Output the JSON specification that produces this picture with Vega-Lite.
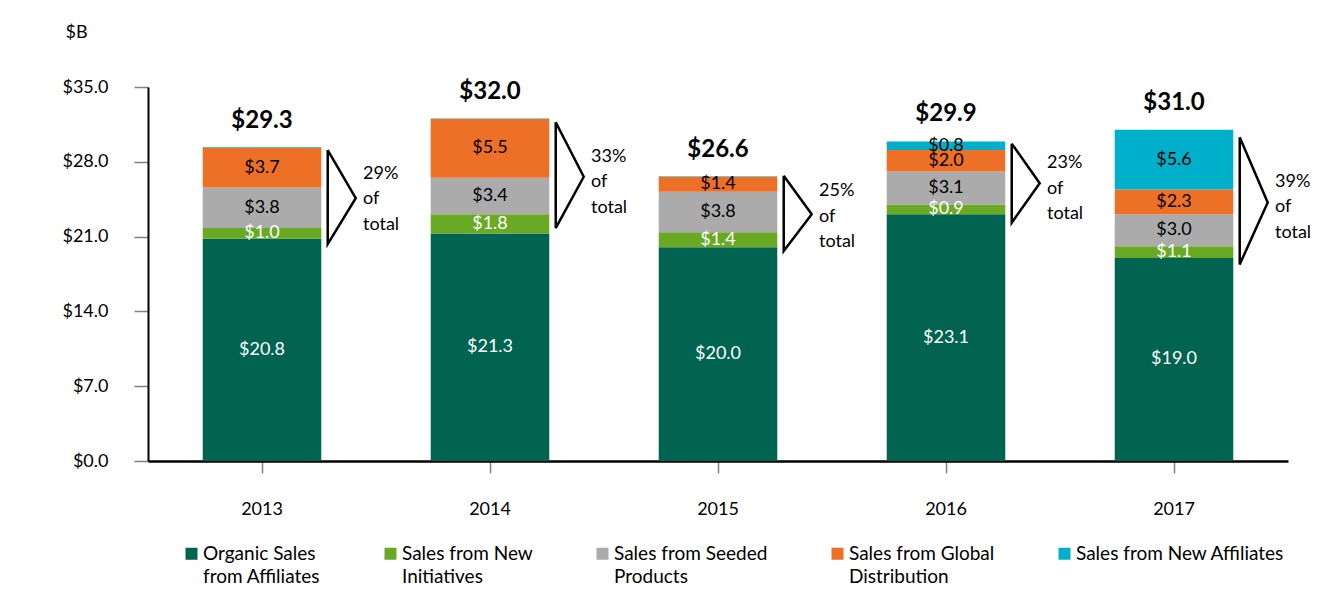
{
  "$schema": "https://vega.github.io/schema/vega-lite/v6.json",
  "width": 1140,
  "height": 374,
  "autosize": {"type": "none"},
  "padding": {"left": 148, "top": 87, "right": 54, "bottom": 130},
  "config": {"font": "Lato", "view": {"stroke": null}, "style": {"guide-label": {"lineHeight": 23}}},
  "resolve": {"scale": {"xOffset": "independent"}},
  "datasets": {
    "seg": [
      {"year": "2013", "series": "Organic Sales from Affiliates", "k": 1, "v": 20.8},
      {"year": "2013", "series": "Sales from New Initiatives", "k": 2, "v": 1.0},
      {"year": "2013", "series": "Sales from Seeded Products", "k": 3, "v": 3.8},
      {"year": "2013", "series": "Sales from Global Distribution", "k": 4, "v": 3.7},
      {"year": "2013", "series": "Sales from New Affiliates", "k": 5, "v": 0.05},
      {"year": "2014", "series": "Organic Sales from Affiliates", "k": 1, "v": 21.3},
      {"year": "2014", "series": "Sales from New Initiatives", "k": 2, "v": 1.8},
      {"year": "2014", "series": "Sales from Seeded Products", "k": 3, "v": 3.4},
      {"year": "2014", "series": "Sales from Global Distribution", "k": 4, "v": 5.5},
      {"year": "2014", "series": "Sales from New Affiliates", "k": 5, "v": 0.05},
      {"year": "2015", "series": "Organic Sales from Affiliates", "k": 1, "v": 20.0},
      {"year": "2015", "series": "Sales from New Initiatives", "k": 2, "v": 1.4},
      {"year": "2015", "series": "Sales from Seeded Products", "k": 3, "v": 3.8},
      {"year": "2015", "series": "Sales from Global Distribution", "k": 4, "v": 1.4},
      {"year": "2015", "series": "Sales from New Affiliates", "k": 5, "v": 0.05},
      {"year": "2016", "series": "Organic Sales from Affiliates", "k": 1, "v": 23.1},
      {"year": "2016", "series": "Sales from New Initiatives", "k": 2, "v": 0.9},
      {"year": "2016", "series": "Sales from Seeded Products", "k": 3, "v": 3.1},
      {"year": "2016", "series": "Sales from Global Distribution", "k": 4, "v": 2.0},
      {"year": "2016", "series": "Sales from New Affiliates", "k": 5, "v": 0.8},
      {"year": "2017", "series": "Organic Sales from Affiliates", "k": 1, "v": 19.0},
      {"year": "2017", "series": "Sales from New Initiatives", "k": 2, "v": 1.1},
      {"year": "2017", "series": "Sales from Seeded Products", "k": 3, "v": 3.0},
      {"year": "2017", "series": "Sales from Global Distribution", "k": 4, "v": 2.3},
      {"year": "2017", "series": "Sales from New Affiliates", "k": 5, "v": 5.6}
    ],
    "yr": [
      {"year": "2013", "total": 29.3, "ly": 26.9, "lbl": "29%\nof\ntotal"},
      {"year": "2014", "total": 32.0, "ly": 28.45, "lbl": "33%\nof\ntotal"},
      {"year": "2015", "total": 26.6, "ly": 25.25, "lbl": "25%\nof\ntotal"},
      {"year": "2016", "total": 29.9, "ly": 27.85, "lbl": "23%\nof\ntotal"},
      {"year": "2017", "total": 31.0, "ly": 26.15, "lbl": "39%\nof\n total"}
    ],
    "chev": [
      {"year": "2013", "i": 1, "side": "L", "v": 29.1},
      {"year": "2013", "i": 2, "side": "R", "v": 24.6},
      {"year": "2013", "i": 3, "side": "L", "v": 20.3},
      {"year": "2013", "i": 4, "side": "L", "v": 29.1},
      {"year": "2014", "i": 1, "side": "L", "v": 31.7},
      {"year": "2014", "i": 2, "side": "R", "v": 26.6},
      {"year": "2014", "i": 3, "side": "L", "v": 21.8},
      {"year": "2014", "i": 4, "side": "L", "v": 31.7},
      {"year": "2015", "i": 1, "side": "L", "v": 26.7},
      {"year": "2015", "i": 2, "side": "R", "v": 23.1},
      {"year": "2015", "i": 3, "side": "L", "v": 19.65},
      {"year": "2015", "i": 4, "side": "L", "v": 26.7},
      {"year": "2016", "i": 1, "side": "L", "v": 29.7},
      {"year": "2016", "i": 2, "side": "R", "v": 26.0},
      {"year": "2016", "i": 3, "side": "L", "v": 22.3},
      {"year": "2016", "i": 4, "side": "L", "v": 29.7},
      {"year": "2017", "i": 1, "side": "L", "v": 30.3},
      {"year": "2017", "i": 2, "side": "R", "v": 24.2},
      {"year": "2017", "i": 3, "side": "L", "v": 18.4},
      {"year": "2017", "i": 4, "side": "L", "v": 30.3}
    ]
  },
  "layer": [
    {
      "data": {"name": "seg"},
      "transform": [
        {"stack": "v", "groupby": ["year"], "sort": [{"field": "k", "order": "ascending"}], "as": ["v0", "v1"]}
      ],
      "mark": {"type": "bar"},
      "encoding": {
        "x": {
          "field": "year", "type": "nominal",
          "scale": {"paddingInner": 0.48, "paddingOuter": 0.24},
          "axis": {"title": null, "labelAngle": 0, "labelFontSize": 18, "labelColor": "#000000", "tickSize": 12, "tickColor": "#808080", "tickWidth": 1.5, "domainColor": "#000000", "domainWidth": 2.5, "labelPadding": 27}
        },
        "y": {
          "field": "v0", "type": "quantitative",
          "scale": {"domain": [0, 35], "nice": false, "zero": true},
          "axis": {"values": [0, 7, 14, 21, 28, 35], "format": "$.1f", "grid": false, "labelFontSize": 18, "labelColor": "#000000", "labelPadding": 26, "tickSize": 14, "tickColor": "#808080", "tickWidth": 1.5, "domainColor": "#000000", "domainWidth": 2, "title": "$B", "titleAngle": 0, "titleX": -83, "titleY": -55, "titleAlign": "left", "titleBaseline": "middle", "titleFontSize": 18, "titleFontWeight": "normal", "titleColor": "#000000"}
        },
        "y2": {"field": "v1"},
        "color": {
          "field": "series", "type": "nominal",
          "scale": {
            "domain": ["Organic Sales from Affiliates", "Sales from New Initiatives", "Sales from Seeded Products", "Sales from Global Distribution", "Sales from New Affiliates"],
            "range": ["#006450", "#6aa924", "#ababab", "#ed7026", "#00b0ca"]
          },
          "legend": {
            "title": null, "orient": "none", "legendX": 34, "legendY": 457, "direction": "horizontal", "columns": 5,
            "columnPadding": 60, "symbolType": "square", "symbolSize": 144, "symbolStrokeWidth": 0, "labelFontSize": 19, "labelColor": "#000000",
            "labelOffset": 2, "labelLimit": 400, "labelBaseline": "middle",
            "labelExpr": "datum.label == 'Organic Sales from Affiliates' ? ['Organic Sales','from Affiliates'] : datum.label == 'Sales from New Initiatives' ? ['Sales from New','Initiatives'] : datum.label == 'Sales from Seeded Products' ? ['Sales from Seeded','Products'] : datum.label == 'Sales from Global Distribution' ? ['Sales from Global','Distribution'] : [datum.label, '']"
          }
        }
      }
    },
    {
      "data": {"name": "seg"},
      "transform": [
        {"stack": "v", "groupby": ["year"], "sort": [{"field": "k", "order": "ascending"}], "as": ["v0", "v1"]},
        {"calculate": "(datum.v0 + datum.v1) / 2", "as": "vm"},
        {"filter": "datum.v >= 0.5"}
      ],
      "mark": {"type": "text", "fontSize": 18, "baseline": "middle"},
      "encoding": {
        "x": {"field": "year", "type": "nominal"},
        "y": {"field": "vm", "type": "quantitative"},
        "text": {"field": "v", "type": "quantitative", "format": "$.1f"},
        "color": {"condition": {"test": "datum.k <= 2", "value": "#ffffff"}, "value": "#000000"}
      }
    },
    {
      "data": {"name": "yr"},
      "mark": {"type": "text", "fontSize": 24, "fontWeight": "bold", "baseline": "alphabetic", "dy": -20, "color": "#000000"},
      "encoding": {
        "x": {"field": "year", "type": "nominal"},
        "y": {"field": "total", "type": "quantitative"},
        "text": {"field": "total", "type": "quantitative", "format": "$.1f"}
      }
    },
    {
      "data": {"name": "chev"},
      "mark": {"type": "line", "color": "#000000", "strokeWidth": 2.5, "strokeJoin": "miter"},
      "encoding": {
        "x": {"field": "year", "type": "nominal"},
        "xOffset": {"field": "side", "type": "nominal", "scale": {"type": "point", "domain": ["L", "R"], "range": [125, 153], "padding": 0}},
        "y": {"field": "v", "type": "quantitative"},
        "order": {"field": "i", "type": "quantitative"},
        "detail": {"field": "year", "type": "nominal"}
      }
    },
    {
      "data": {"name": "yr"},
      "mark": {"type": "text", "fontSize": 18, "align": "left", "baseline": "middle", "dx": 101, "lineBreak": "\n", "lineHeight": 25.5, "color": "#000000"},
      "encoding": {
        "x": {"field": "year", "type": "nominal"},
        "y": {"field": "ly", "type": "quantitative"},
        "text": {"field": "lbl", "type": "nominal"}
      }
    }
  ]
}
